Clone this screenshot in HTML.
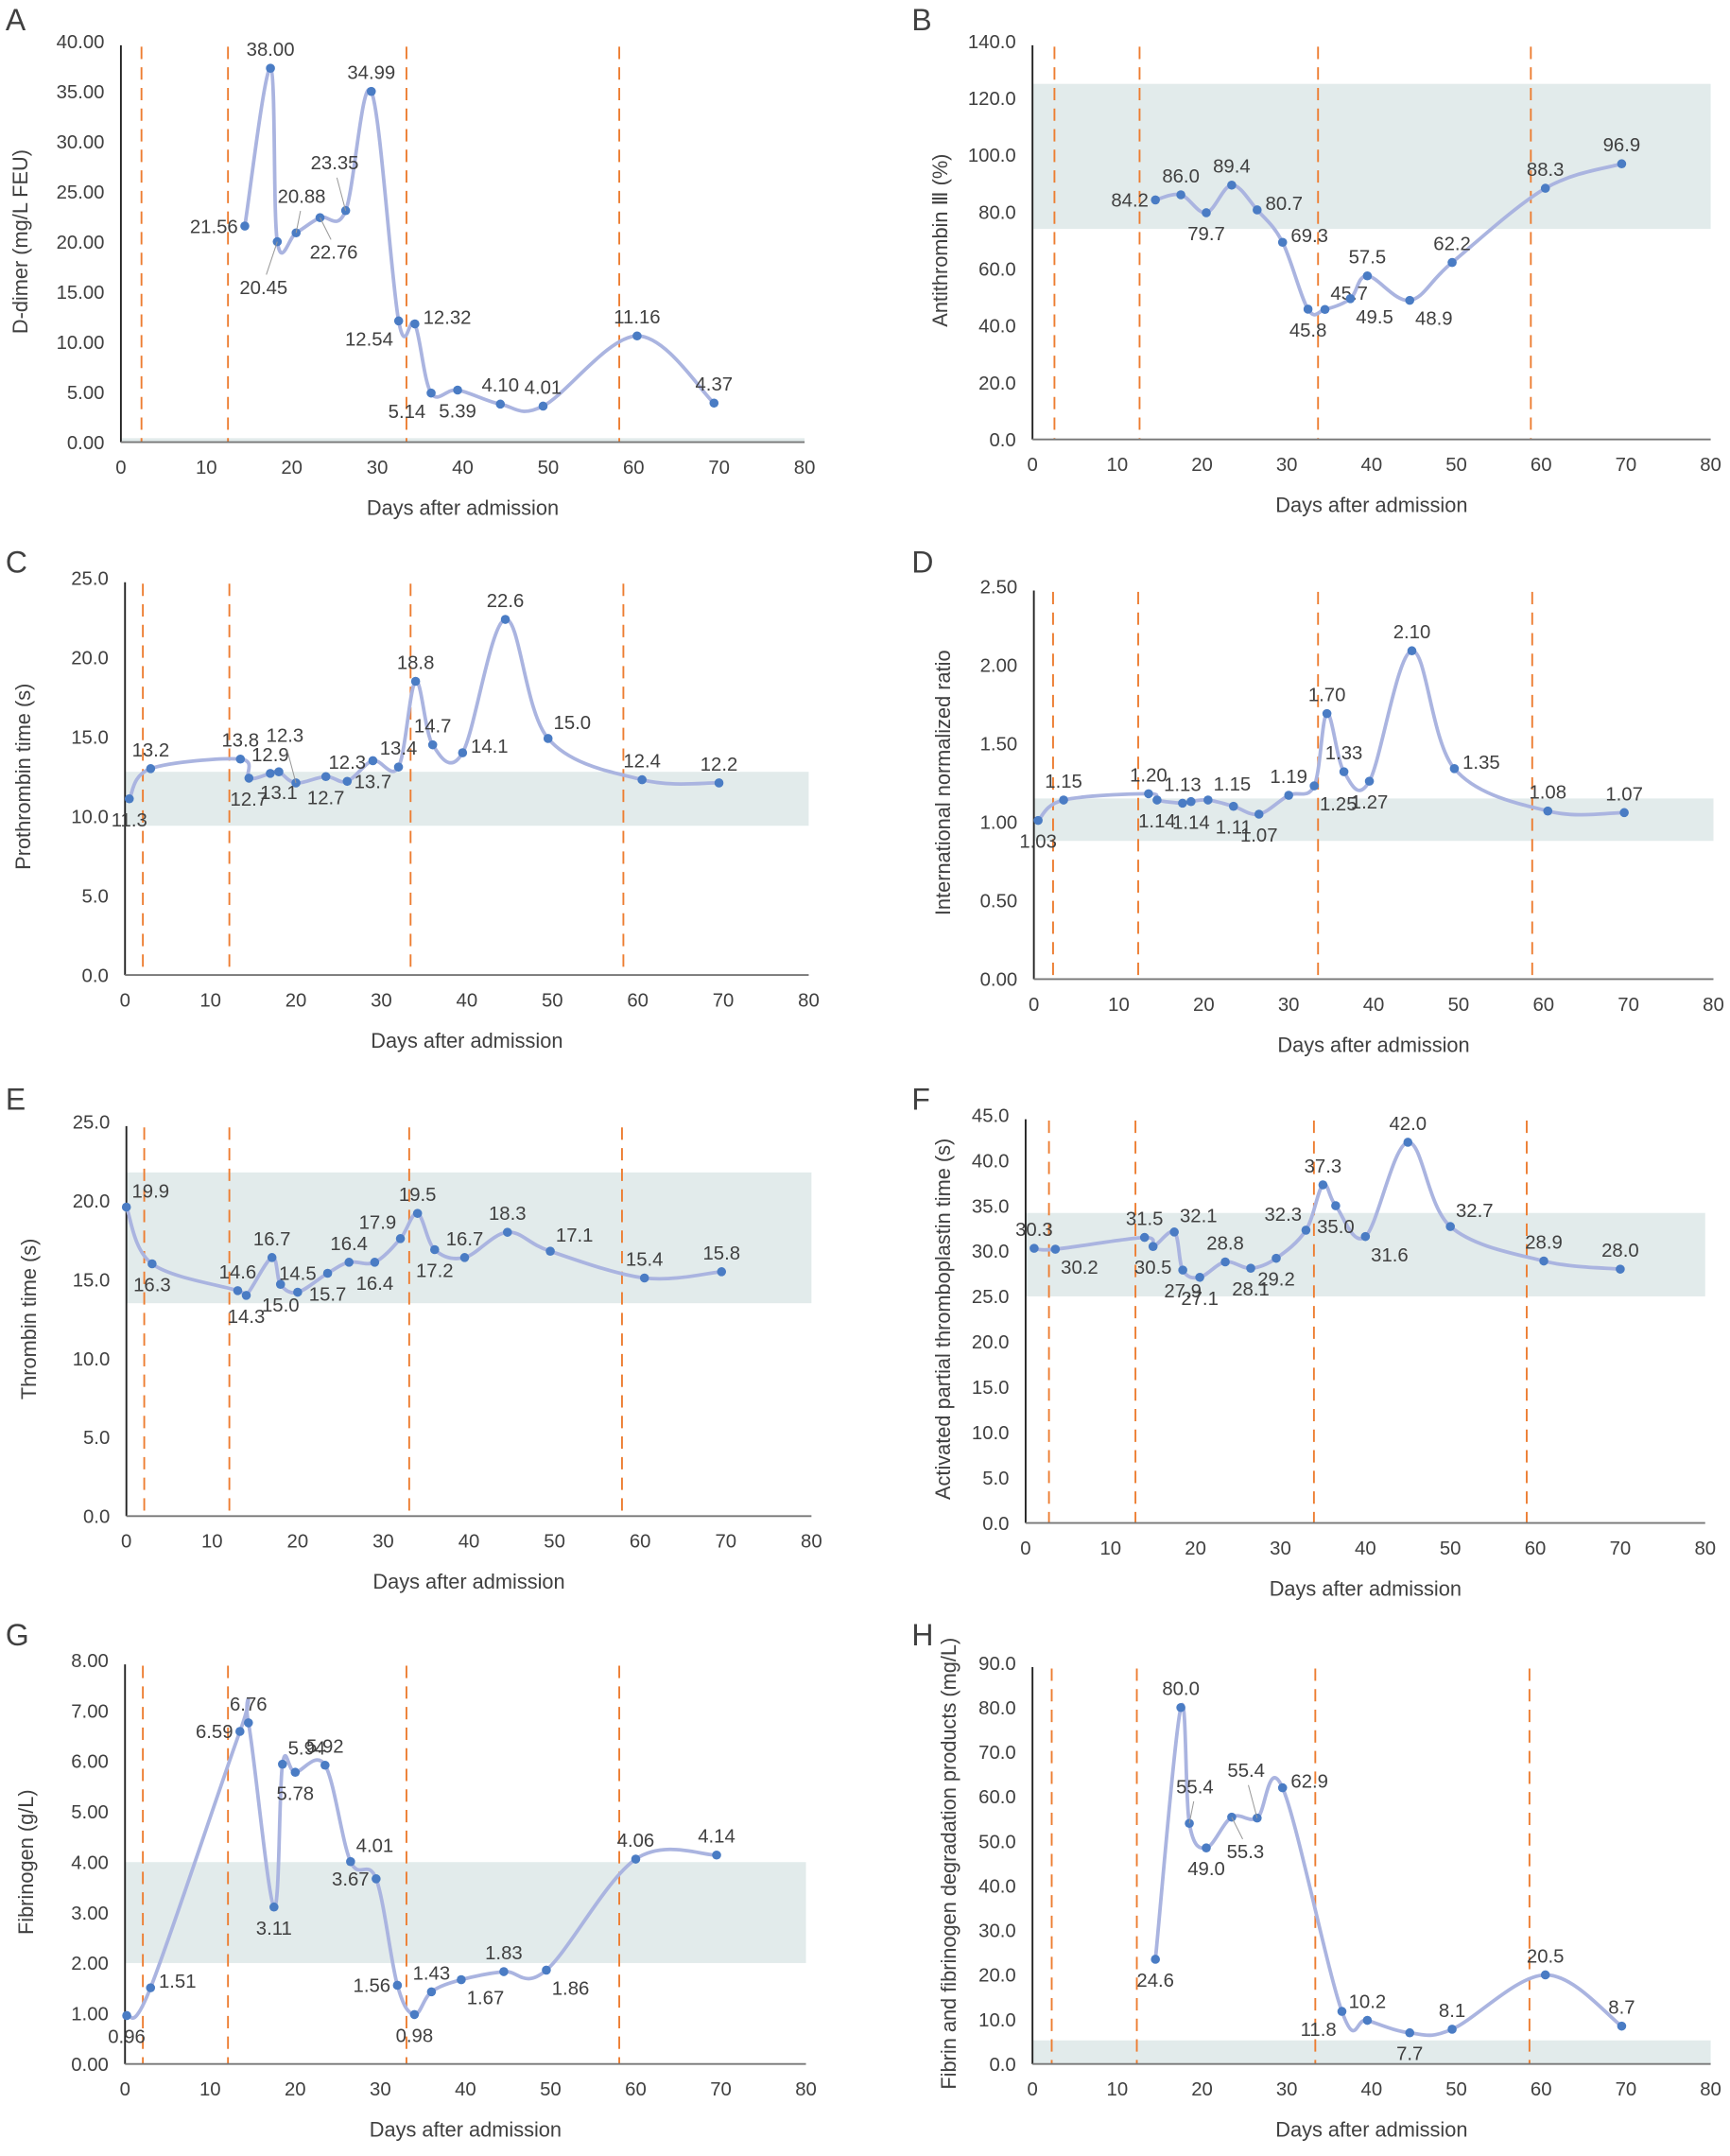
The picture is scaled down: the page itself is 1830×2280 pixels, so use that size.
<!DOCTYPE html>
<html><head><meta charset="utf-8"><style>
html,body{margin:0;padding:0;background:#fff;}
svg{display:block;}
text{font-family:"Liberation Sans Narrow","Liberation Sans",sans-serif;fill:#404040;}
</style></head><body>
<svg id="s" width="1830" height="2280" viewBox="0 0 1260 1570" xmlns="http://www.w3.org/2000/svg"></svg>
<script>
const P=[
{L:'A',lx:4,ly:22,x0:88,x1:586,yb:322,yt:30,max:40,st:5,dec:2,band:[0,0.4],yl:'D-dimer  (mg/L FEU)',ylx:20,vl:[103,166,296,451],
pts:[[14.5,21.56,'l'],[17.5,37.3,'a','38.00'],[18.3,20.0,'b2','20.45'],[20.5,20.88,'a2'],[23.3,22.4,'b3','22.76'],[26.3,23.1,'a3','23.35'],[29.3,34.99,'a'],[32.5,12.1,'bl','12.54'],[34.4,11.8,'r','12.32'],[36.3,4.9,'bl','5.14'],[39.4,5.2,'b','5.39'],[44.4,3.8,'a','4.10'],[49.4,3.6,'a','4.01'],[60.4,10.6,'a','11.16'],[69.4,3.9,'a','4.37']]},
{L:'B',lx:664,ly:22,x0:752,x1:1246,yb:320,yt:30,max:140,st:20,dec:1,band:[74,125],yl:'Antithrombin Ⅲ  (%)',ylx:690,vl:[768,830,960,1115],
pts:[[14.5,84.2,'l'],[17.5,86.0,'a'],[20.5,79.7,'b'],[23.5,89.4,'a'],[26.5,80.7,'r'],[29.5,69.3,'r'],[32.5,45.8,'b'],[34.5,45.7,'ar'],[37.5,49.5,'br'],[39.5,57.5,'a'],[44.5,48.9,'br'],[49.5,62.2,'a'],[60.5,88.3,'a'],[69.5,96.9,'a']]},
{L:'C',lx:4,ly:417,x0:91,x1:589,yb:710,yt:421,max:25,st:5,dec:1,band:[9.4,12.8],yl:'Prothrombin time  (s)',ylx:22,vl:[104,167,299,454],
pts:[[0.5,11.1,'b','11.3'],[3,13.0,'a','13.2'],[13.5,13.6,'a','13.8'],[14.5,12.4,'b','12.7'],[17,12.7,'a','12.9'],[18,12.8,'b','13.1'],[20,12.1,'a3','12.3'],[23.5,12.5,'b','12.7'],[26,12.2,'a','12.3'],[29,13.5,'b','13.7'],[32,13.1,'a','13.4'],[34,18.5,'a','18.8'],[36,14.5,'a','14.7'],[39.5,14.0,'r','14.1'],[44.5,22.4,'a','22.6'],[49.5,14.9,'ar','15.0'],[60.5,12.3,'a','12.4'],[69.5,12.1,'a','12.2']]},
{L:'D',lx:664,ly:417,x0:753,x1:1248,yb:713,yt:427,max:2.5,st:0.5,dec:2,band:[0.88,1.15],yl:'International normalized ratio',ylx:692,vl:[767,829,960,1116],
pts:[[0.5,1.01,'b','1.03'],[3.5,1.14,'a','1.15'],[13.5,1.18,'a','1.20'],[14.5,1.14,'b'],[17.5,1.12,'a','1.13'],[18.5,1.13,'b','1.14'],[20.5,1.14,'ar','1.15'],[23.5,1.10,'b','1.11'],[26.5,1.05,'b','1.07'],[30,1.17,'a','1.19'],[33,1.23,'br','1.25'],[34.5,1.69,'a','1.70'],[36.5,1.32,'a','1.33'],[39.5,1.26,'b','1.27'],[44.5,2.09,'a','2.10'],[49.5,1.34,'r','1.35'],[60.5,1.07,'a','1.08'],[69.5,1.06,'a','1.07']]},
{L:'E',lx:4,ly:808,x0:92,x1:591,yb:1104,yt:817,max:25,st:5,dec:1,band:[13.5,21.8],yl:'Thrombin time  (s)',ylx:26,vl:[105,167,298,453],
pts:[[0,19.6,'ar','19.9'],[3,16.0,'b','16.3'],[13,14.3,'a','14.6'],[14,14.0,'b','14.3'],[17,16.4,'a','16.7'],[18,14.7,'b','15.0'],[20,14.2,'a','14.5'],[23.5,15.4,'b','15.7'],[26,16.1,'a','16.4'],[29,16.1,'b','16.4'],[32,17.6,'al','17.9'],[34,19.2,'a','19.5'],[36,16.9,'b','17.2'],[39.5,16.4,'a','16.7'],[44.5,18.0,'a','18.3'],[49.5,16.8,'ar','17.1'],[60.5,15.1,'a','15.4'],[69.5,15.5,'a','15.8']]},
{L:'F',lx:664,ly:808,x0:747,x1:1242,yb:1109,yt:812,max:45,st:5,dec:1,band:[25,34.2],yl:'Activated partial thromboplastin time  (s)',ylx:692,vl:[764,827,957,1112],
pts:[[1,30.3,'a'],[3.5,30.2,'br'],[14,31.5,'a'],[15,30.5,'b'],[17.5,32.1,'ar'],[18.5,27.9,'b'],[20.5,27.1,'b'],[23.5,28.8,'a'],[26.5,28.1,'b'],[29.5,29.2,'b'],[33,32.3,'al'],[35,37.3,'a'],[36.5,35.0,'b'],[40,31.6,'br'],[45,42.0,'a'],[50,32.7,'ar'],[61,28.9,'a'],[70,28.0,'a']]},
{L:'G',lx:4,ly:1198,x0:91,x1:587,yb:1503,yt:1209,max:8,st:1,dec:2,band:[2,4],yl:'Fibrinogen  (g/L)',ylx:24,vl:[104,166,296,451],
pts:[[0.2,0.96,'b'],[3,1.51,'r'],[13.5,6.59,'l'],[14.5,6.76,'a'],[17.5,3.11,'b'],[18.5,5.94,'ar'],[20,5.78,'b'],[23.5,5.92,'a'],[26.5,4.01,'ar'],[29.5,3.67,'l'],[32,1.56,'l'],[34,0.98,'b'],[36,1.43,'a'],[39.5,1.67,'br'],[44.5,1.83,'a'],[49.5,1.86,'br'],[60,4.06,'a'],[69.5,4.14,'a']]},
{L:'H',lx:664,ly:1198,x0:752,x1:1246,yb:1503,yt:1211,max:90,st:10,dec:1,band:[0,5.3],yl:'Fibrin and fibrinogen degradation products  (mg/L)',ylx:696,vl:[766,828,958,1114],
pts:[[14.5,23.5,'b','24.6'],[17.5,80.0,'a'],[18.5,54.0,'a2','55.4'],[20.5,48.5,'b','49.0'],[23.5,55.4,'b3','55.3'],[26.5,55.2,'a3','55.4'],[29.5,62.0,'r','62.9'],[36.5,11.8,'bl'],[39.5,9.8,'a','10.2'],[44.5,7.0,'b','7.7'],[49.5,7.8,'a','8.1'],[60.5,20.0,'a','20.5'],[69.5,8.5,'a','8.7']]}
];
const NS='http://www.w3.org/2000/svg',S=document.getElementById('s');
function el(t,a,txt){const e=document.createElementNS(NS,t);for(const k in a)e.setAttribute(k,a[k]);if(txt!==undefined)e.textContent=txt;S.appendChild(e);return e;}
for(const p of P){
 const X=d=>p.x0+(p.x1-p.x0)*d/80, Y=v=>p.yb-(p.yb-p.yt)*v/p.max;
 el('rect',{x:p.x0,y:Y(p.band[1]),width:p.x1-p.x0,height:Y(p.band[0])-Y(p.band[1]),fill:'#e2ebeb'});
 for(const v of p.vl) el('line',{x1:v,x2:v,y1:p.yt+4,y2:p.yb,stroke:'#ed7d31','stroke-width':1.3,'stroke-dasharray':'9,6'});
 el('line',{x1:p.x0,x2:p.x0,y1:p.yt+3,y2:p.yb,stroke:'#222','stroke-width':1.3});
 el('line',{x1:p.x0,x2:p.x1,y1:p.yb,y2:p.yb,stroke:'#777','stroke-width':1.3});
 for(let v=0;v<=p.max+1e-9;v+=p.st) el('text',{x:p.x0-12,y:Y(v)+5,'font-size':14,'text-anchor':'end'},v.toFixed(p.dec));
 for(let d=0;d<=80;d+=10) el('text',{x:X(d),y:p.yb+23,'font-size':14,'text-anchor':'middle'},String(d));
 el('text',{x:(p.x0+p.x1)/2,y:p.yb+53,'font-size':15,'text-anchor':'middle',style:'font-family:"Liberation Sans",sans-serif'},'Days after admission');
 el('text',{x:0,y:0,'font-size':15,'text-anchor':'middle',transform:`translate(${p.ylx},${(p.yt+p.yb)/2}) rotate(-90)`,style:'font-family:"Liberation Sans",sans-serif'},p.yl);
 el('text',{x:p.lx,y:p.ly,'font-size':22,style:'font-family:"Liberation Sans",sans-serif'},p.L);
 const q=p.pts.map(a=>[X(a[0]),Y(a[1])]);
 let d='M'+q[0][0]+','+q[0][1];
 for(let i=0;i<q.length-1;i++){const a=q[i-1]||q[i],b=q[i],c=q[i+1],e=q[i+2]||c,t=0.17;
  d+=` C${b[0]+(c[0]-a[0])*t},${b[1]+(c[1]-a[1])*t} ${c[0]-(e[0]-b[0])*t},${c[1]-(e[1]-b[1])*t} ${c[0]},${c[1]}`;}
 el('path',{d:d,fill:'none',stroke:'#aab4e0','stroke-width':2.6});
 p.pts.forEach((a,i)=>{const [x,y]=q[i];el('circle',{cx:x,cy:y,r:3.3,fill:'#4a7cc4'});
  const lab=a[3]||(a[1].toFixed(p.dec));let dx=0,dy=-9,an='middle';
  switch(a[2]){case 'b':dy=20;break;case 'l':dx=-5;dy=5;an='end';break;case 'r':dx=6;dy=0;an='start';break;
   case 'ar':dx=4;dy=-7;an='start';break;case 'al':dx=-3;dy=-7;an='end';break;case 'br':dx=4;dy=18;an='start';break;case 'bl':dx=-4;dy=18;an='end';break;
   case 'a2':dx=4;dy=-22;break;case 'a3':dx=-8;dy=-30;break;case 'b2':dx=-10;dy=38;break;case 'b3':dx=10;dy=30;break;}
  if(a[2]==='a2'||a[2]==='a3'||a[2]==='b2'||a[2]==='b3') el('line',{x1:x,y1:y,x2:x+dx*0.8,y2:y+(dy<0?dy+6:dy-14),stroke:'#999','stroke-width':0.7});
  el('text',{x:x+dx,y:y+dy,'font-size':14,'text-anchor':an},lab);});
}
</script>
</body></html>
